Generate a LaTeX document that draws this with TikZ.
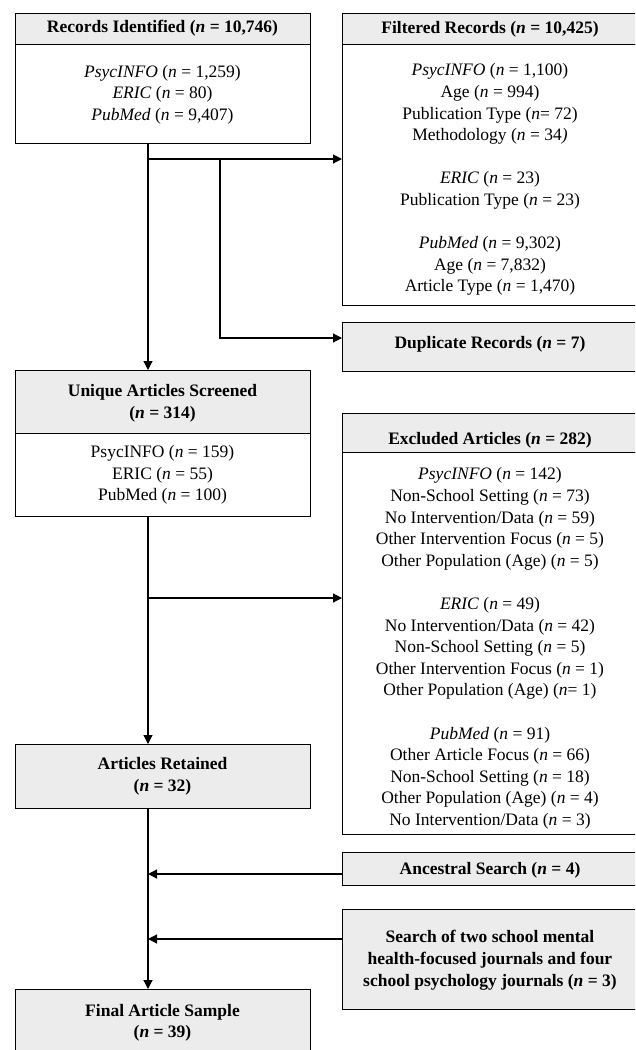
\documentclass[tikz,border=0pt]{standalone}
\usepackage{fontspec}
\setmainfont{Liberation Serif}
\usetikzlibrary{arrows.meta}
\begin{document}
\begin{tikzpicture}[x=1pt,y=-1pt,
  box/.style={draw=black,line width=1.2pt,inner sep=0pt,anchor=north west},
  hd/.style={box,fill=gray!15},
  bd/.style={box,fill=white},
  lw/.style={minimum width=295pt},
  rw/.style={minimum width=296pt},
  txt/.style={align=center,inner sep=0pt,font=\fontsize{17.5}{21.6}\selectfont},
  arr/.style={line width=1.2pt,-{Triangle[length=9pt,width=9pt]}},
]
\useasboundingbox (0,0) rectangle (635,1050);
\clip (0,0) rectangle (635,1050);

% Records Identified
\node[bd,lw,minimum height=99pt] (recb) at (15,44) {};
\node[hd,lw,minimum height=31pt] (rech) at (15,13) {};
\node[txt] (rect) at (162.5,28.5) {\textbf{Records Identified (\textit{n} = 10,746)}};
\node[txt] (recl) at (162.5,94.5) {\textit{PsycINFO} (\textit{n} = 1,259)\\ \textit{ERIC} (\textit{n} = 80)\\ \textit{PubMed} (\textit{n} = 9,407)};

% Filtered Records
\node[bd,rw,minimum height=261pt] (filb) at (342,44) {};
\node[hd,rw,minimum height=31pt] (filh) at (342,13) {};
\node[txt] (filt) at (490,29) {\textbf{Filtered Records (\textit{n} = 10,425)}};
\node[txt] (fill) at (490,179.8) {\textit{PsycINFO} (\textit{n} = 1,100)\\ Age (\textit{n} = 994)\\ Publication Type (\textit{n}= 72)\\ Methodology (\textit{n} = 34\textit{)}\\[21.6pt]
 \textit{ERIC} (\textit{n} = 23)\\ Publication Type (\textit{n} = 23)\\[21.6pt]
 \textit{PubMed} (\textit{n} = 9,302)\\ Age (\textit{n} = 7,832)\\ Article Type (\textit{n} = 1,470)};

% Duplicate Records
\node[hd,rw,minimum height=49pt] (dup) at (342,322) {};
\node[txt] (dupt) at (490,344) {\textbf{Duplicate Records (\textit{n} = 7)}};

% Unique Articles Screened
\node[bd,lw,minimum height=83pt] (unib) at (15,433) {};
\node[hd,lw,minimum height=63pt] (unih) at (15,370) {};
\node[txt] (unit) at (162.5,403.2) {\textbf{Unique Articles Screened}\\ \textbf{(\textit{n} = 314)}};
\node[txt] (unil) at (162.5,475) {PsycINFO (\textit{n} = 159)\\ ERIC (\textit{n} = 55)\\ PubMed (\textit{n} = 100)};

% Excluded Articles
\node[bd,rw,minimum height=382pt] (exb) at (342,452) {};
\node[hd,rw,minimum height=39pt] (exh) at (342,413) {};
\node[txt] (ext) at (490,440) {\textbf{Excluded Articles (\textit{n} = 282)}};
\node[txt] (exl) at (490,648.5) {\textit{PsycINFO} (\textit{n} = 142)\\ Non-School Setting (\textit{n} = 73)\\ No Intervention/Data (\textit{n} = 59)\\ Other Intervention Focus (\textit{n} = 5)\\ Other Population (Age) (\textit{n} = 5)\\[21.6pt]
 \textit{ERIC} (\textit{n} = 49)\\ No Intervention/Data (\textit{n} = 42)\\ Non-School Setting (\textit{n} = 5)\\ Other Intervention Focus (\textit{n} = 1)\\ Other Population (Age) (\textit{n}= 1)\\[21.6pt]
 \textit{PubMed} (\textit{n} = 91)\\ Other Article Focus (\textit{n} = 66)\\ Non-School Setting (\textit{n} = 18)\\ Other Population (Age) (\textit{n} = 4)\\ No Intervention/Data (\textit{n} = 3)};

% Articles Retained
\node[hd,lw,minimum height=64pt] (ret) at (15,744) {};
\node[txt] (rett) at (162.5,776.5) {\textbf{Articles Retained}\\ \textbf{(\textit{n} = 32)}};

% Ancestral Search
\node[hd,rw,minimum height=33pt] (anc) at (342,852) {};
\node[txt] (anct) at (490,870.7) {\textbf{Ancestral Search (\textit{n} = 4)}};

% Search of journals
\node[hd,rw,minimum height=100pt] (srch) at (342,909) {};
\node[txt] (srcht) at (490,960.3) {\textbf{Search of two school mental}\\ \textbf{health-focused journals and four}\\ \textbf{school psychology journals (\textit{n} = 3)}};

% Final Article Sample
\node[hd,lw,minimum height=67pt] (fin) at (15,989) {};
\node[txt] (fint) at (162.5,1022.8) {\textbf{Final Article Sample}\\ \textbf{(\textit{n} = 39)}};

% connectors
\coordinate (j1) at (148,159);
\coordinate (j2) at (220,159);
\coordinate (j3) at (220,338);
\coordinate (j4) at (148,598);
\coordinate (j5) at (148,874);
\coordinate (j6) at (148,939);

\draw[arr] (recb.south -| j1) -- (unih.north -| j1);
\draw[arr] (j1) -- (j1 -| filb.west);
\draw[arr] (j2) -- (j3) -- (j3 -| dup.west);
\draw[arr] (unib.south -| j1) -- (ret.north -| j1);
\draw[arr] (j4) -- (j4 -| exb.west);
\draw[arr] (ret.south -| j1) -- (fin.north -| j1);
\draw[arr] (j5 -| anc.west) -- (j5);
\draw[arr] (j6 -| srch.west) -- (j6);
\end{tikzpicture}
\end{document}
